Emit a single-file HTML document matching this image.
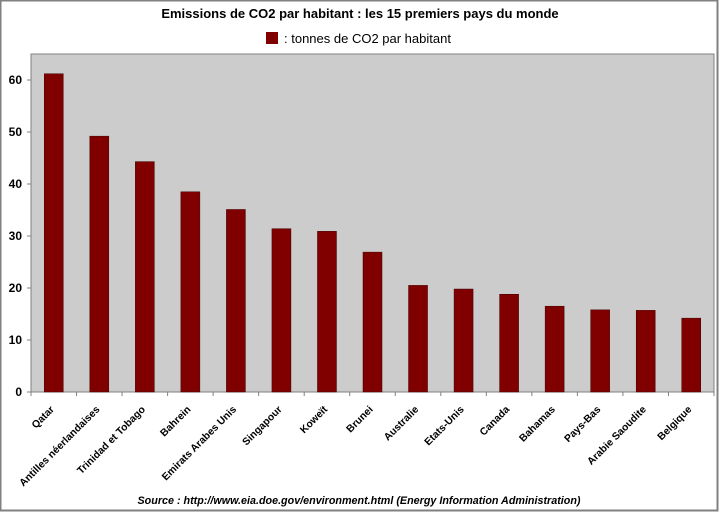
<!DOCTYPE html>
<html><head><meta charset="utf-8"><style>
html,body{margin:0;padding:0;background:#fff}
svg{display:block;font-family:"Liberation Sans",Arial,sans-serif}
</style></head><body>
<svg width="719" height="512" viewBox="0 0 719 512">
<rect x="0.5" y="0.5" width="717" height="510" fill="#fff" stroke="#808080" stroke-width="2"/>
<text x="360" y="18" text-anchor="middle" font-size="13" font-weight="bold">Emissions de CO2 par habitant : les 15 premiers pays du monde</text>
<rect x="266" y="32" width="12" height="12" fill="#800000"/>
<text x="284" y="43" font-size="13">: tonnes de CO2 par habitant</text>
<rect x="31" y="54" width="683" height="338" fill="#cccccc" stroke="#808080" stroke-width="1"/>
<g stroke="#808080" stroke-width="1">
<line x1="27" y1="392" x2="31" y2="392"/><line x1="27" y1="340" x2="31" y2="340"/>
<line x1="27" y1="288" x2="31" y2="288"/><line x1="27" y1="236" x2="31" y2="236"/>
<line x1="27" y1="184" x2="31" y2="184"/><line x1="27" y1="132" x2="31" y2="132"/>
<line x1="27" y1="80" x2="31" y2="80"/>
</g>
<g font-size="12" font-weight="bold" text-anchor="end">
<text x="22" y="396">0</text><text x="22" y="344">10</text><text x="22" y="292">20</text>
<text x="22" y="240">30</text><text x="22" y="188">40</text><text x="22" y="136">50</text><text x="22" y="84">60</text>
</g>
<g id="bars" fill="#800000" stroke="#400000" stroke-width="0.5"></g>
<g id="ticks" stroke="#808080"></g>
<g id="labels" font-size="10.3" font-weight="bold" text-anchor="end"></g>
<text x="359" y="504" text-anchor="middle" font-size="10.75" font-weight="bold" font-style="italic">Source : http://www.eia.doe.gov/environment.html (Energy Information Administration)</text>
<script>
var names=["Qatar","Antilles néerlandaises","Trinidad et Tobago","Bahrein","Emirats Arabes Unis","Singapour","Koweït","Brunei","Australie","Etats-Unis","Canada","Bahamas","Pays-Bas","Arabie Saoudite","Belgique"];
var vals=[61.2,49.2,44.3,38.5,35.1,31.4,30.9,26.9,20.5,19.8,18.8,16.5,15.8,15.7,14.2];
var ns="http://www.w3.org/2000/svg",w=683/15;
var b=document.getElementById("bars"),t=document.getElementById("ticks"),l=document.getElementById("labels");
for(var i=0;i<15;i++){
 var c=31+w*(i+0.5),h=vals[i]*5.2;
 var r=document.createElementNS(ns,"rect");
 r.setAttribute("x",c-9.5);r.setAttribute("y",392-h);r.setAttribute("width",19);r.setAttribute("height",h);b.appendChild(r);
 var ln=document.createElementNS(ns,"line");var tx=31+w*(i+1);
 ln.setAttribute("x1",tx);ln.setAttribute("x2",tx);ln.setAttribute("y1",392);ln.setAttribute("y2",396);t.appendChild(ln);
 var tt=document.createElementNS(ns,"text");
 tt.setAttribute("transform","translate("+(c+1)+",410) rotate(-45)");tt.textContent=names[i];l.appendChild(tt);
}
var ln0=document.createElementNS(ns,"line");ln0.setAttribute("x1",31);ln0.setAttribute("x2",31);ln0.setAttribute("y1",392);ln0.setAttribute("y2",396);t.appendChild(ln0);
</script>
</svg>
</body></html>
